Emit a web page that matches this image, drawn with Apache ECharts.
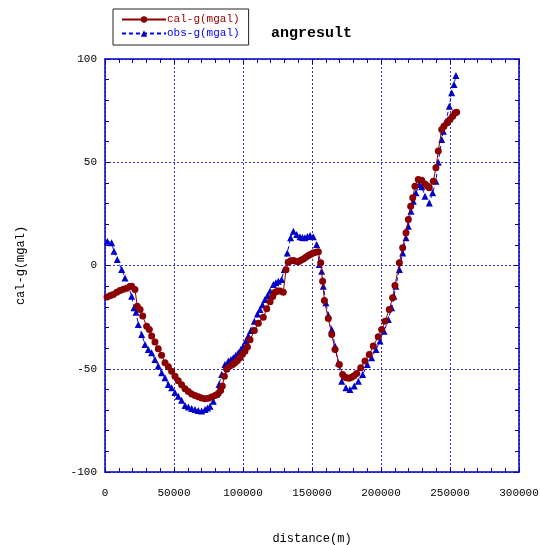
<!DOCTYPE html>
<html>
<head>
<meta charset="utf-8">
<script src="https://cdn.jsdelivr.net/npm/echarts@6/dist/echarts.min.js"></script>
<style>html,body{margin:0;padding:0;background:#fff;}#c{width:540px;height:545px;}</style>
</head>
<body>
<div id="c"></div>
<script>
const calDist = [1500,4000,6000,8500,10900,13300,15700,18000,19300,21700,23400,25400,27300,30200,32100,33800,36200,38600,41000,43500,45900,48300,50700,53100,55500,58000,60400,62800,65200,67600,70000,72500,74900,77300,79700,82000,83800,85000,86500,88200,90600,92500,94200,96000,97800,99600,101400,103200,105100,108200,111100,114700,117200,119600,121500,123200,125000,126800,129200,131200,132800,134600,136500,138300,140100,141900,143700,145500,147300,149100,150900,152700,154600,156300,157700,159000,161800,164300,166700,169800,172200,173700,175100,177000,178700,180500,182400,185300,188400,191500,194400,198000,200500,202900,206000,208400,210100,213300,215700,218100,219800,221500,223000,224600,227000,229500,231900,233500,235000,237900,239800,241500,244000,245600,248000,250000,251900,253600,254800];
const calVal = [-15.2,-14.5,-14,-13,-12.1,-11.5,-11,-10.3,-10,-11.6,-19.7,-21.3,-24.5,-29.4,-31,-34.2,-37.1,-40.3,-43.5,-47.1,-49,-51.2,-53.6,-55.8,-57.8,-59.7,-61,-62.2,-62.9,-63.6,-64.2,-64.5,-64.3,-63.7,-62.9,-62,-60.5,-58.4,-53.6,-50.3,-48.7,-48,-47.1,-46,-44.7,-43,-41.5,-39.5,-36,-31.5,-28,-25,-21,-17.5,-15,-13,-12.4,-12.4,-12.9,-2,1.6,2.3,2.4,2,1.8,2.5,3.2,4,4.8,5.5,6.1,6.4,6.6,1.3,-7.6,-17,-25.7,-33.4,-40.7,-47.9,-52.8,-54,-54.4,-54.6,-54.1,-53.4,-52.3,-49.5,-46.3,-43.1,-39,-34.5,-31,-27,-21.3,-15.6,-9.7,1.3,8.6,15.8,22.3,28.7,32.8,38.4,41.6,41.3,39.5,38.5,37.6,40.8,47.3,55.5,65.8,67.4,69.1,70.7,72.3,73.9,74.2];
const obsDist = [1700,4800,6500,8900,12100,14500,16900,19300,21000,22500,24100,26600,29000,31400,33800,36200,38600,41100,43500,45900,48300,50700,53100,55500,58000,60400,62800,65200,67600,70000,72500,74300,76100,78500,80900,82600,84500,86900,89400,91200,93000,94800,96600,98400,100200,102000,103800,105600,108200,110500,112300,114100,115900,117800,119600,122000,123800,125600,128000,129900,132100,134500,136500,138900,141300,143100,144900,146700,148600,150900,153400,155300,157000,158200,160100,161800,164300,166700,169100,171500,174600,177500,180600,183600,186700,190100,193200,196400,199300,202200,205300,207700,209400,210800,213300,215700,218100,219800,221700,223400,225300,227700,229500,231900,235000,237400,239800,241500,244000,245200,247100,249500,251200,252900,254300];
const obsVal = [11.8,11,6.9,2.9,-1.9,-6,-10,-14.9,-20.5,-22.6,-28.6,-33.4,-38.2,-40.7,-42.3,-45.5,-48.7,-51.9,-54.4,-57.6,-59.2,-61.5,-63.3,-65.2,-67.8,-68.5,-69.3,-69.7,-70.2,-70.5,-69.7,-69,-68.1,-65.7,-62.4,-57.6,-52.8,-47.9,-46.3,-45.5,-44.7,-43.5,-42.3,-40.7,-39,-36.6,-34.2,-31.5,-27,-23.5,-21.3,-19,-16.5,-14.5,-12.4,-9.2,-8.4,-7.6,-6.8,-1.9,6.1,13.4,16.6,15,13.9,13.5,13.4,14,14.5,13.9,10.2,0.5,-2.8,-10,-18,-24,-31,-39,-47.1,-56,-59.2,-60,-58.4,-56,-52.8,-47.9,-44.7,-40.7,-36.6,-31.8,-26.1,-20.5,-14.9,-10,-1.9,6.1,13.4,19,26.3,31.1,35.2,39.2,38.1,33.5,30.3,35.2,40.8,50,61,65,69.8,77.1,83.6,87.6,92];
const xTicks = [0,50000,100000,150000,200000,250000,300000];
const yTicks = [-100,-50,0,50,100];
const calName = 'cal-g(mgal)';
const obsName = 'obs-g(mgal)';
const titleText = 'angresult';
const xName = 'distance(m)';
const yName = 'cal-g(mgal)';

const FONT = '"Liberation Mono", "DejaVu Sans Mono", monospace';
const AX = '#0000c8';
const zip = (a, b) => a.map((x, i) => [x, b[i]]);

const chart = echarts.init(document.getElementById('c'), null, {renderer: 'canvas'});
const baseX = {
  type: 'value', min: xTicks[0], max: xTicks[xTicks.length - 1], interval: xTicks[1] - xTicks[0],
  axisLine: {show: true, onZero: false, lineStyle: {color: AX, width: 1.5}},
  axisTick: {show: true, inside: true, length: 5, lineStyle: {color: AX}},
  minorTick: {show: true, splitNumber: 5, length: 4, lineStyle: {color: AX}},
  splitLine: {show: false}
};
const baseY = {
  type: 'value', min: yTicks[0], max: yTicks[yTicks.length - 1], interval: yTicks[1] - yTicks[0],
  axisLine: {show: true, onZero: false, lineStyle: {color: AX, width: 1.5}},
  axisTick: {show: true, inside: true, length: 5, lineStyle: {color: AX}},
  minorTick: {show: true, splitNumber: 5, length: 4, lineStyle: {color: AX}},
  splitLine: {show: false}
};
chart.setOption({
  animation: false,
  backgroundColor: '#fff',
  grid: {left: 105, right: 21, top: 59, bottom: 73, containLabel: false, outerBoundsMode: 'none'},
  title: {text: titleText, left: 266, top: 21, textStyle: {fontFamily: FONT, fontSize: 15, fontWeight: 'bold', color: '#000'}},
  legend: {
    orient: 'vertical', left: 113, top: 9, itemGap: 3, itemWidth: 44, itemHeight: 8,
    padding: [5, 9, 6, 8], borderColor: '#222', borderWidth: 1, backgroundColor: '#fff',
    textStyle: {fontFamily: FONT, fontSize: 11, padding: [0, 0, 0, -4]},
    data: [
      {name: calName, textStyle: {color: '#a00000'}},
      {name: obsName, textStyle: {color: '#0000ff'}}
    ]
  },
  xAxis: [
    Object.assign({}, baseX, {
      position: 'bottom', name: xName, nameLocation: 'middle', nameGap: 61,
      nameTextStyle: {fontFamily: FONT, fontSize: 12, color: '#000'},
      axisLabel: {fontFamily: FONT, fontSize: 11, color: '#000', margin: 16, formatter: v => String(v)},
      splitLine: {show: true, lineStyle: {color: '#3030d0', type: [2, 2], width: 1}}
    }),
    Object.assign({}, baseX, {position: 'top', axisLabel: {show: false}})
  ],
  yAxis: [
    Object.assign({}, baseY, {
      position: 'left', name: yName, nameLocation: 'middle', nameGap: 78, nameRotate: 90,
      nameTextStyle: {fontFamily: FONT, fontSize: 12, color: '#000'},
      axisLabel: {fontFamily: FONT, fontSize: 11, color: '#000', margin: 8},
      splitLine: {show: true, lineStyle: {color: '#3030d0', type: [2, 2], width: 1}}
    }),
    Object.assign({}, baseY, {position: 'right', axisLabel: {show: false}})
  ],
  series: [
    {
      name: obsName, type: 'line', xAxisIndex: 0, yAxisIndex: 0,
      data: zip(obsDist, obsVal), symbol: 'triangle', symbolSize: 7,
      itemStyle: {color: '#0000c8'},
      lineStyle: {color: '#0000ff', width: 1, type: [4, 3]}, z: 2
    },
    {
      name: calName, type: 'line', xAxisIndex: 0, yAxisIndex: 0,
      data: zip(calDist, calVal), symbol: 'circle', symbolSize: 7,
      itemStyle: {color: '#8b0000'},
      lineStyle: {color: '#8b0000', width: 1}, z: 3
    }
  ]
});
</script>
</body>
</html>
